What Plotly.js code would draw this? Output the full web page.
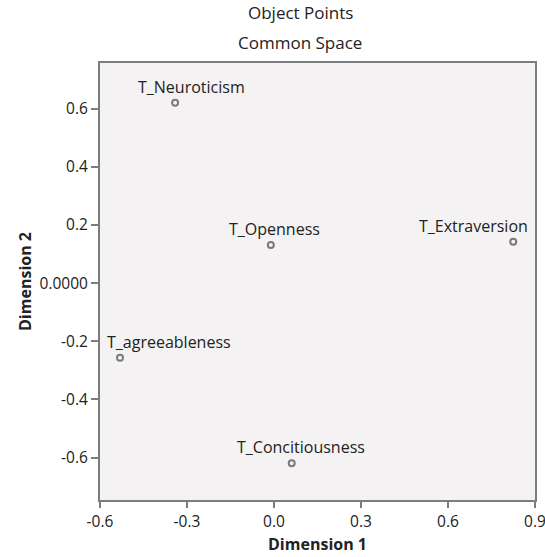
<!DOCTYPE html>
<html>
<head>
<meta charset="utf-8">
<script src="https://cdn.plot.ly/plotly-3.0.1.min.js"></script>
<style>html,body{margin:0;padding:0;background:#fff;}#chart{width:545px;height:557px;}</style>
</head>
<body>
<div id="chart"></div>
<script>
const labels = ["T_Neuroticism", "T_Openness", "T_Extraversion", "T_agreeableness", "T_Concitiousness"];
const dim1 = [-0.341, -0.011, 0.825, -0.531, 0.061];
const dim2 = [0.620, 0.131, 0.142, -0.257, -0.620];
const xTickVals = [-0.6, -0.3, 0.0, 0.3, 0.6, 0.9];
const xTickText = ["-0.6", "-0.3", "0.0", "0.3", "0.6", "0.9"];
const yTickVals = [-0.6, -0.4, -0.2, 0.0, 0.2, 0.4, 0.6];
const yTickText = ["-0.6", "-0.4", "-0.2", "0.0000", "0.2", "0.4", "0.6"];

// label horizontal offsets (px) relative to each marker
const labelXShift = [16, 4, -40, 49, 9];

const FONT = "Open Sans, Noto Sans, sans-serif";
const annotations = labels.map((t, i) => ({
  x: dim1[i], y: dim2[i], xref: "x", yref: "y",
  text: t, showarrow: false, xshift: labelXShift[i], yshift: 16,
  font: {family: FONT, size: 16, color: "#222"}
}));
annotations.push({text: "Object Points", xref: "paper", yref: "paper", x: 0.46, y: 1, yanchor: "middle", yshift: 51, showarrow: false, font: {family: FONT, size: 17, color: "#222"}});
annotations.push({text: "Common Space", xref: "paper", yref: "paper", x: 0.46, y: 1, yanchor: "middle", yshift: 21, showarrow: false, font: {family: FONT, size: 17, color: "#222"}});

const trace = {
  x: dim1, y: dim2, type: "scatter", mode: "markers",
  marker: {symbol: "circle-open", size: 6, color: "#7a7a7a", line: {width: 2, color: "#7a7a7a"}},
  hoverinfo: "skip"
};

const layout = {
  width: 545, height: 557,
  margin: {l: 100, r: 10, t: 63, b: 57},
  paper_bgcolor: "#ffffff",
  plot_bgcolor: "#f5f2f3",
  showlegend: false,
  annotations: annotations,
  xaxis: {
    range: [-0.6, 0.9], tickvals: xTickVals, ticktext: xTickText,
    showgrid: false, zeroline: false, showline: true, mirror: true,
    linecolor: "#7d7d7d", linewidth: 2,
    ticks: "outside", ticklen: 6, tickwidth: 2, tickcolor: "#7d7d7d",
    ticklabeloverflow: "allow",
    tickfont: {family: FONT, size: 15.5, color: "#222"},
    title: {text: "<b>Dimension 1</b>", standoff: 8, font: {family: FONT, size: 16, color: "#222"}}
  },
  yaxis: {
    range: [-0.746, 0.757], tickvals: yTickVals, ticktext: yTickText,
    showgrid: false, zeroline: false, showline: true, mirror: true,
    linecolor: "#7d7d7d", linewidth: 2,
    ticks: "outside", ticklen: 7, tickwidth: 2, tickcolor: "#7d7d7d",
    tickfont: {family: FONT, size: 15.5, color: "#222"},
    title: {text: "<b>Dimension 2</b>", standoff: 4, font: {family: FONT, size: 16, color: "#222"}}
  }
};

Plotly.newPlot("chart", [trace], layout, {displayModeBar: false, staticPlot: true});
</script>
</body>
</html>
